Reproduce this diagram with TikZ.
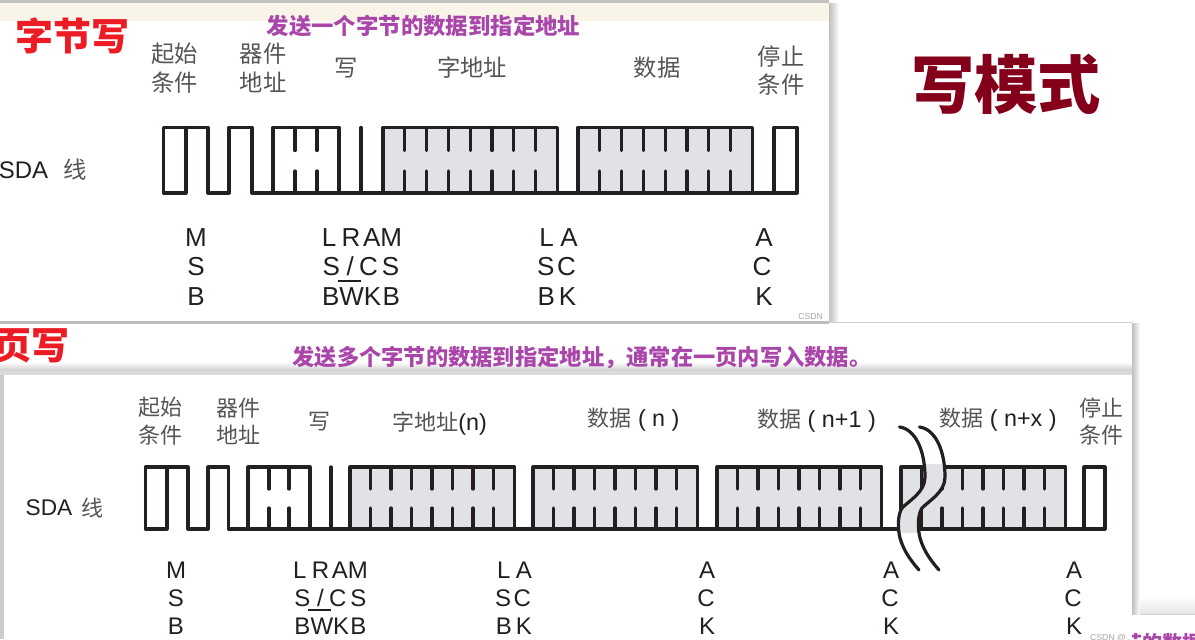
\documentclass[tikz,border=0pt]{standalone}
\usepackage{fontspec}
\setmainfont{Liberation Sans}
\newfontfamily\cjk{Noto Sans CJK SC}
\newfontfamily\latinlabel{Liberation Sans}

\definecolor{titlered}{RGB}{237,28,36}
\definecolor{titlepurple}{RGB}{170,70,170}
\definecolor{modered}{RGB}{132,0,26}
\definecolor{cellgray}{RGB}{225,226,230}
\definecolor{stripbeige}{RGB}{248,244,232}
\definecolor{headgray}{RGB}{85,85,85}
\definecolor{wavedark}{RGB}{35,31,32}

\tikzset{
	waveA/.style={draw=wavedark,line width=2.4pt,line join=round,line cap=round},
	waveB/.style={draw=wavedark,line width=2.4pt,line join=round,line cap=round},
	headA/.style={text=headgray,inner sep=0pt,font=\cjk\fontsize{17.5}{17.5}\selectfont},
	headB/.style={text=headgray,inner sep=0pt,font=\cjk\fontsize{16.5}{16.5}\selectfont},
	letterA/.style={text=wavedark,inner sep=0pt,anchor=base,font=\fontsize{19.5}{19.5}\selectfont},
	letterB/.style={text=wavedark,inner sep=0pt,anchor=base,font=\fontsize{18}{18}\selectfont},
	titleR/.style={text=titlered,inner sep=0pt,font=\cjk\bfseries\fontsize{28.5}{28.5}\selectfont},
	titleP/.style={text=titlepurple,inner sep=0pt,font=\cjk\bfseries\fontsize{16.8}{16.8}\selectfont},
}

\begin{document}
\begin{tikzpicture}[x=0.75pt,y=0.75pt,yscale=-1]
	\useasboundingbox (0,0) rectangle (1195,639);
	\clip (0,0) rectangle (1195,639);

	% Third sheet, bottom right
	\shade [top color=white,bottom color=black!10] (1132,596) rectangle (1195,613.5);
	\fill [black!18] (1132,613.5) rectangle (1195,615);
	\node [titleP,anchor=west,font=\cjk\bfseries\fontsize{15}{15}\selectfont] (sheetrest) at (1122,643) {节的数据};

	% Sheet one
	\fill [black!24] (0,0) rectangle (829,3);
	\shade [left color=black!25,right color=white] (829,3) rectangle (839,322);
	\fill [stripbeige] (0,3) rectangle (829,21);
	\fill [white] (0,21) -- (810,21) .. controls (820,21) and (829,28) .. (829,38) -- (829,321) -- (0,321) -- cycle;
	\fill [black!30] (0,321) rectangle (829,323);
	\shade [top color=black!18,bottom color=white] (829,322) rectangle (1132,326);

	% Sheet two
	\shade [left color=black!25,right color=white] (1132,323) rectangle (1140,614);
	\fill [white] (0,323) rectangle (1132,639);
	\fill [black!26] (0,321) rectangle (829,323.5);
	\shade [top color=white,bottom color=black!20] (0,362) rectangle (1132,371);
	\fill [black!14] (0,371) rectangle (1132,375);
	\fill [black!20] (0,375) rectangle (4,639);
	\node [text=black!35,inner sep=0pt,font=\fontsize{6.5}{6.5}\selectfont] (marksheetB) at (1108,638) {CSDN @};

	% Titles
	\node [titleR] (titlebyte) at (72.5,36) {字节写};
	\node [titleP] (notebyte) at (423.5,26) {发送一个字节的数据到指定地址};
	\node [titleR] (titlepage) at (31,346) {页写};
	\node [titleP,font=\cjk\bfseries\fontsize{16.7}{16.7}\selectfont] (notepage) at (582,358) {发送多个字节的数据到指定地址，通常在一页内写入数据。};
	\node [text=modered,inner sep=0pt,font=\cjk\bfseries\fontsize{47.5}{47.5}\selectfont] (titlemode) at (1006,84) {写模式};
	\node [text=black!35,inner sep=0pt,font=\fontsize{6.5}{6.5}\selectfont,anchor=west] (marksheetA) at (798,317) {CSDN};

	%Byte write: grey cells
	\foreach \xa in {383,578}{
		\fill [cellgray] (\xa,127.5) rectangle +(174.5,65.5);
		\draw [waveA] (\xa,193) |- (\xa+174.5,127.5) -- (\xa+174.5,193);
		\foreach \i in {1,...,7}{
			\draw [waveA] (\xa+\i*21.81,127.5) -- +(0,23);
			\draw [waveA] (\xa+\i*21.81,171) -- (\xa+\i*21.81,193);
		}
	}
	%Byte write: start, device address, write bit, stop
	\draw [waveA] (186,127.5) -- (186,193) -- (163.5,193) -- (163.5,127.5) -- (208,127.5) -- (208,193) -- (229,193) -- (229,127.5) -- (252,127.5) -- (252,193) -- (774,193);
	\draw [waveA] (273,193) |- (339,127.5) -- (339,193);
	\draw [waveA] (361,127.5) -- (361,193);
	\draw [waveA] (774,193) -- (774,127.5) -- (797,127.5) -- (797,193) -- (774,193);
	\foreach \x in {295,317}{
		\draw [waveA] (\x,127.5) -- +(0,23);
		\draw [waveA] (\x,171) -- (\x,193);
	}

	%Page write: grey cells
	\foreach \xa in {350,533,717,901}{
		\fill [cellgray] (\xa,467) rectangle +(164.5,62);
		\draw [waveB] (\xa,529) |- (\xa+164.5,467) -- (\xa+164.5,529);
		\foreach \i in {1,...,7}{
			\draw [waveB] (\xa+\i*20.5,467) -- +(0,22);
			\draw [waveB] (\xa+\i*20.5,508) -- (\xa+\i*20.5,529);
		}
	}
	%Page write: start, device address, write bit, stop
	\draw [waveB] (167,467) -- (167,529) -- (145.5,529) -- (145.5,467) -- (188,467) -- (188,529) -- (208,529) -- (208,467) -- (228.5,467) -- (228.5,529) -- (1084,529);
	\draw [waveB] (248,529) |- (310,467) -- (310,529);
	\draw [waveB] (331,467) -- (331,529);
	\draw [waveB] (1084,529) -- (1084,467) -- (1105,467) -- (1105,529) -- (1084,529);
	\foreach \x in {269,289}{
		\draw [waveB] (\x,467) -- +(0,22);
		\draw [waveB] (\x,508) -- (\x,529);
	}

	%Break between the curves
	\begin{scope}
		\clip (880,464) rectangle (970,532);
		\fill [cellgray] (899.5,427) .. controls (915,429) and (925,450) .. (925,477) .. controls (925,492) and (910,500) .. (902,508) .. controls (897,516) and (898,530) .. (900,538) -- (919,570) -- (939,570) -- (920,538) .. controls (918,530) and (917,516) .. (922,508) .. controls (930,500) and (945,492) .. (945,477) .. controls (945,450) and (935,429) .. (920,427) -- cycle;
	\end{scope}
	\foreach \dx in {0,20}{
		\draw [waveB,xshift=\dx*0.75pt] (899.5,427) .. controls (915,429) and (925,450) .. (925,477) .. controls (925,492) and (910,500) .. (902,508) .. controls (897,516) and (898,530) .. (900,538) .. controls (904,552) and (912,562) .. (919,570);
	}

	% Text Node
	\node [headA] (startA) at (174.5,54) {起始};
	\node [headA] (startAb) at (174.5,83) {条件};
	\node [headA] (devA) at (263,54) {器件};
	\node [headA] (devAb) at (263,82) {地址};
	\node [headA] (writeA) at (346,68) {写};
	\node [headA] (wordA) at (472,68) {字地址};
	\node [headA] (dataA) at (657,68) {数据};
	\node [headA] (stopA) at (781,57) {停止};
	\node [headA] (stopAb) at (781,85) {条件};
	\node [inner sep=0pt,text=wavedark,font=\fontsize{18}{18}\selectfont] (sdaA) at (23.5,170) {SDA};
	\node [headA] (lineA) at (75.5,170) {线};
	% Text Node
	\node [letterA] (msbA) at (196,246) {M};
	\node [letterA] (msbAb) at (196,275) {S};
	\node [letterA] (msbAc) at (196,305) {B};
	\node [letterA] (lrmA) at (362,246) {L\kern4pt R\kern2pt AM};
	\node [letterA] (lrmAb) at (361,275) {S\kern5pt /\kern4pt C\kern3pt S};
	\node [letterA] (lrmAc) at (361,305) {BWK\kern1pt B};
	\node [letterA] (lsbA) at (558.5,246) {L\kern5pt A};
	\node [letterA] (lsbAb) at (556.5,275) {S\kern2pt C};
	\node [letterA] (lsbAc) at (557,305) {B\kern3pt K};
	\node [letterA] (ackA) at (764,246) {A};
	\node [letterA] (ackAb) at (762,275) {C};
	\node [letterA] (ackAc) at (764,305) {K};
	\coordinate (barAl) at (338,281);
	\coordinate (barAr) at (361,281);
	\draw [line width=1.5pt,draw=wavedark] (barAl) -- (barAr);

	% Text Node
	\node [headB] (startB) at (160,407) {起始};
	\node [headB] (startBb) at (160,435) {条件};
	\node [headB] (devB) at (238.5,408) {器件};
	\node [headB] (devBb) at (238.5,435) {地址};
	\node [headB] (writeB) at (319,422) {写};
	\node [headB,anchor=west] (wordB) at (392,424) {字地址\textcolor{wavedark}{\latinlabel\fontsize{17.5}{17.5}\selectfont(n)}};
	\node [headB] (dataB) at (633.5,420) {数据\textcolor{wavedark}{\latinlabel\fontsize{17.5}{17.5}\selectfont\ ( n )}};
	\node [headB] (dataBb) at (816.5,421) {数据\textcolor{wavedark}{\latinlabel\fontsize{17.5}{17.5}\selectfont\ ( n+1 )}};
	\node [headB] (dataBc) at (998,420) {数据\textcolor{wavedark}{\latinlabel\fontsize{17.5}{17.5}\selectfont\ ( n+x )}};
	\node [headB] (stopB) at (1101,408) {停止};
	\node [headB] (stopBb) at (1101,435) {条件};
	\node [inner sep=0pt,text=wavedark,font=\fontsize{17}{17}\selectfont] (sdaB) at (49,508) {SDA};
	\node [headB] (lineB) at (92,508) {线};
	% Text Node
	\node [letterB] (msbB) at (176,578) {M};
	\node [letterB] (msbBb) at (176,606) {S};
	\node [letterB] (msbBc) at (176,634) {B};
	\node [letterB] (lrmB) at (330.5,578) {L\kern4pt R\kern2pt AM};
	\node [letterB] (lrmBb) at (330.5,606) {S\kern5pt /\kern4pt C\kern3pt S};
	\node [letterB] (lrmBc) at (330.5,634) {BWK\kern1pt B};
	\node [letterB] (lsbB) at (514.5,578) {L\kern4pt A};
	\node [letterB] (lsbBb) at (513,606) {S\kern2pt C};
	\node [letterB] (lsbBc) at (514,634) {B\kern3pt K};
	\foreach \x/\n in {707/a,891/b,1074/c}{
		\node [letterB] (ackB\n) at (\x,578) {A};
		\node [letterB] (ackBb\n) at (\x-1,606) {C};
		\node [letterB] (ackBc\n) at (\x,634) {K};
	}
	\coordinate (barBl) at (308,610);
	\coordinate (barBr) at (331,610);
	\draw [line width=1.5pt,draw=wavedark] (barBl) -- (barBr);
\end{tikzpicture}
\end{document}
